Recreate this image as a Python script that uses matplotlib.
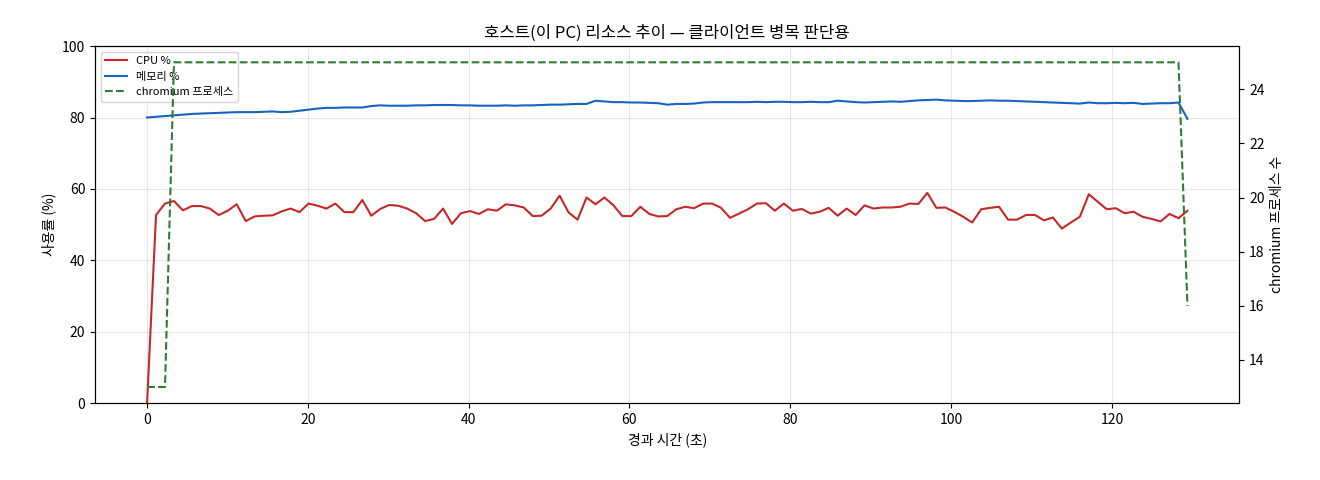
import numpy as np
import matplotlib
matplotlib.use("Agg")
import matplotlib.pyplot as plt

plt.rcParams['font.family'] = ['Noto Sans CJK KR', 'DejaVu Sans']

cpu = [0, 52.7, 55.9, 56.6, 54.0, 55.2, 55.2, 54.5, 52.7, 53.9, 55.7, 51.0, 52.3, 52.5, 52.6, 53.7, 54.5, 53.5, 55.9, 55.3,
       54.5, 55.9, 53.5, 53.5, 56.9, 52.5, 54.4, 55.5, 55.3, 54.5, 53.2, 51.0, 51.6, 54.5, 50.2, 53.2, 53.8, 53.0, 54.3,
       53.9, 55.7, 55.4, 54.8, 52.4, 52.5, 54.5, 58.1, 53.4, 51.4, 57.6, 55.7, 57.6, 55.4, 52.4, 52.4, 55.0, 53.0, 52.3, 52.4,
       54.3, 55.0, 54.6, 55.9, 55.9, 54.7, 51.9, 53.1, 54.3, 55.9, 56.0, 53.9, 55.9, 53.9, 54.4, 53.1, 53.6, 54.7, 52.5, 54.5,
       52.7, 55.4, 54.5,
       54.8, 54.8, 55.0, 55.9, 55.8, 58.9, 54.7, 54.8, 53.6, 52.2, 50.6, 54.3, 54.7, 55.0, 51.4, 51.4, 52.7, 52.7, 51.2, 52.0,
       48.9, 50.6, 52.2, 58.5, 56.4, 54.3, 54.6, 53.2, 53.6, 52.2, 51.6, 50.9, 53.0, 51.8, 53.9]

mem = [80.0, 80.2, 80.4, 80.6, 80.8, 81.0, 81.1, 81.2, 81.3,
       81.4, 81.5, 81.5, 81.5, 81.6, 81.7, 81.5, 81.6, 81.9,
       82.2, 82.5, 82.7, 82.7, 82.8, 82.8, 82.8, 83.2, 83.4,
       83.3, 83.3, 83.3, 83.4, 83.4, 83.5, 83.5, 83.5, 83.4,
       83.4, 83.3, 83.3, 83.3, 83.4, 83.3, 83.4, 83.4, 83.5,
       83.6, 83.6, 83.7, 83.8, 83.8, 84.7, 84.5, 84.3, 84.3,
       84.2, 84.2, 84.1, 84.0, 83.6, 83.8, 83.8, 83.9, 84.2,
       84.3, 84.3, 84.3, 84.3, 84.3, 84.4, 84.3, 84.4, 84.4,
       84.3, 84.3, 84.4, 84.3, 84.3, 84.7, 84.5, 84.3, 84.2,
       84.3, 84.4, 84.5, 84.4, 84.6, 84.8, 84.9, 85.0, 84.8,
       84.7, 84.6, 84.6, 84.7, 84.8, 84.7, 84.7, 84.6, 84.5,
       84.4, 84.3, 84.2, 84.1, 84.0, 83.9, 84.2, 84.0, 84.0,
       84.1, 84.0, 84.1, 83.8, 83.9, 84.0, 84.0, 84.2, 79.6]

chromium = [13, 13, 13] + [25] * 113 + [16]

n = len(cpu)
t = np.linspace(0, 129.4, n)

fig = plt.figure(figsize=(13.2, 4.8), dpi=100)
ax = fig.add_axes([0.072, 0.16, 0.867, 0.744])
l1, = ax.plot(t, cpu, color='#c62828', lw=1.5, label='CPU %')
l2, = ax.plot(t, mem, color='#1565c0', lw=1.5, label='메모리 %')
ax.set_ylim(0, 100)
ax.set_xlabel('경과 시간 (초)')
ax.set_ylabel('사용률 (%)')
ax.grid(True, alpha=0.3)
ax.set_title('호스트(이 PC) 리소스 추이 — 클라이언트 병목 판단용', fontsize=12)

ax2 = ax.twinx()
l3, = ax2.plot(t, chromium, color='#2e7d32', lw=1.5, ls='--', label='chromium 프로세스')
ax2.set_ylabel('chromium 프로세스 수')

ax.legend(handles=[l1, l2, l3], loc='upper left', fontsize=8)

fig.savefig('out.png', dpi=100)
